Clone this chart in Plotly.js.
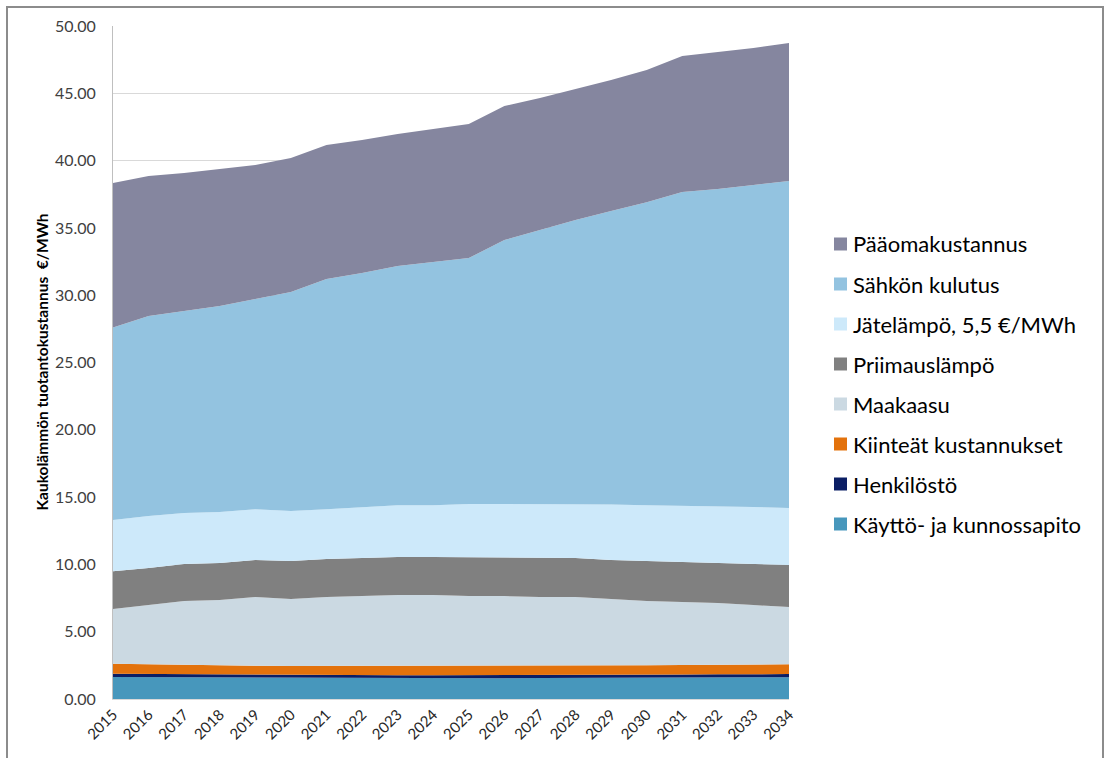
<!DOCTYPE html>
<html>
<head>
<meta charset="utf-8">
<script src="https://cdn.plot.ly/plotly-3.0.1.min.js"></script>
<style>
  html, body { margin: 0; padding: 0; background: #ffffff; }
  #chart { position: absolute; left: 0; top: 0; width: 1105px; height: 758px; }
  #frame { position: absolute; left: 6px; top: 6px; width: 1098px; height: 800px;
           box-sizing: border-box; border: 2px solid #8c8c8c; pointer-events: none; }
</style>
</head>
<body>
<div id="chart"></div>
<div id="frame"></div>
<script>
// ---- Data (€/MWh) ----
const years = [2015, 2016, 2017, 2018, 2019, 2020, 2021, 2022, 2023, 2024,
               2025, 2026, 2027, 2028, 2029, 2030, 2031, 2032, 2033, 2034];
const yearLabels = years.map(String);

const kayttoJaKunnossapito = [1.63, 1.62, 1.60, 1.59, 1.57, 1.57, 1.56, 1.56, 1.55, 1.55,
                              1.55, 1.55, 1.56, 1.56, 1.57, 1.58, 1.59, 1.60, 1.61, 1.62];
const henkilosto = [0.25, 0.24, 0.24, 0.23, 0.23, 0.22, 0.22, 0.22, 0.22, 0.22,
                    0.22, 0.22, 0.22, 0.22, 0.22, 0.23, 0.23, 0.23, 0.23, 0.23];
const kiinteatKustannukset = [0.74, 0.71, 0.69, 0.68, 0.67, 0.66, 0.67, 0.67, 0.68, 0.68,
                              0.68, 0.68, 0.68, 0.69, 0.69, 0.69, 0.70, 0.71, 0.72, 0.73];
const maakaasu = [4.07, 4.41, 4.75, 4.86, 5.11, 4.98, 5.13, 5.20, 5.28, 5.28,
                  5.20, 5.20, 5.12, 5.11, 4.95, 4.78, 4.68, 4.59, 4.42, 4.25];
const priimauslampo = [2.81, 2.75, 2.75, 2.74, 2.75, 2.82, 2.82, 2.83, 2.82, 2.82,
                       2.90, 2.90, 2.92, 2.90, 2.90, 2.97, 2.98, 2.97, 3.05, 3.13];
const jatelampo = [3.80, 3.87, 3.79, 3.80, 3.77, 3.72, 3.70, 3.78, 3.85, 3.85,
                   3.94, 3.94, 3.99, 4.01, 4.12, 4.15, 4.19, 4.20, 4.23, 4.23];
const sahkonKulutus = [14.30, 14.85, 15.01, 15.30, 15.62, 16.27, 17.10, 17.39, 17.77, 18.05,
                       18.27, 19.61, 20.35, 21.10, 21.81, 22.50, 23.30, 23.59, 23.93, 24.29];
const paaomakustannus = [10.74, 10.41, 10.25, 10.18, 9.95, 9.95, 9.96, 9.88, 9.81, 9.90,
                         9.96, 9.96, 9.81, 9.73, 9.73, 9.83, 10.10, 10.18, 10.18, 10.26];

// Series in stacking order (bottom to top)
const seriesNames = ["Käyttö- ja kunnossapito", "Henkilöstö", "Kiinteät kustannukset",
                     "Maakaasu", "Priimauslämpö", "Jätelämpö, 5,5 €/MWh",
                     "Sähkön kulutus", "Pääomakustannus"];
const seriesValues = [kayttoJaKunnossapito, henkilosto, kiinteatKustannukset, maakaasu,
                      priimauslampo, jatelampo, sahkonKulutus, paaomakustannus];
const seriesColors = ["#4797BC", "#0B1E64", "#E3720C", "#CBD9E2",
                      "#808080", "#CDE9FA", "#93C3E0", "#85869F"];

const yTicks = [0, 5, 10, 15, 20, 25, 30, 35, 40, 45, 50];

// ---- Traces ----
const traces = seriesNames.map((name, i) => ({
  type: "scatter",
  mode: "lines",
  name: name,
  x: years,
  y: seriesValues[i],
  stackgroup: "one",
  line: { width: 0, color: seriesColors[i] },
  fillcolor: seriesColors[i],
  hoverinfo: "skip",
  showlegend: false
}));

// ---- Layout geometry ----
const W = 1105, H = 758;
const M = { l: 113, r: 316, t: 26, b: 59 };
const plotH = H - M.t - M.b;

// Custom legend (top entry = top of stack)
const legendX = 1.0 + (834 - (W - M.r)) / (W - M.l - M.r);
const legendTop = 244, legendStep = 40;
const shapes = [];
const annotations = [];
const legendOrder = seriesNames.map((n, i) => i).reverse();
legendOrder.forEach((idx, k) => {
  const py = legendTop + k * legendStep;
  const yp = (H - M.b - py) / plotH;
  shapes.push({
    type: "rect", xref: "paper", yref: "paper",
    xsizemode: "pixel", ysizemode: "pixel",
    xanchor: legendX, yanchor: yp,
    x0: 0, x1: 13, y0: -6.5, y1: 6.5,
    fillcolor: seriesColors[idx], line: { width: 0 }
  });
  annotations.push({
    xref: "paper", yref: "paper", x: legendX, y: yp,
    xanchor: "left", yanchor: "middle", xshift: 17, showarrow: false,
    text: seriesNames[idx],
    font: { family: "Lato, 'Open Sans', sans-serif", size: 22, color: "#000000" }
  });
});

// Y-axis title as rotated annotation
annotations.push({
  xref: "paper", yref: "paper",
  x: (41 - M.l) / (W - M.l - M.r), y: 0.5,
  xanchor: "center", yanchor: "middle", textangle: -90, showarrow: false,
  text: "<b>Kaukolämmön tuotantokustannus  €/MWh</b>",
  font: { family: "Lato, 'Open Sans', sans-serif", size: 15.5, color: "#000000" }
});

const layout = {
  width: W, height: H,
  margin: M,
  paper_bgcolor: "rgba(0,0,0,0)",
  plot_bgcolor: "#ffffff",
  showlegend: false,
  hovermode: false,
  xaxis: {
    type: "linear",
    range: [years[0], years[years.length - 1]],
    tickvals: years,
    ticktext: yearLabels,
    tickangle: -45,
    showgrid: false,
    zeroline: false,
    showline: true, linecolor: "#D9D9D9", linewidth: 1,
    ticks: "",
    tickfont: { family: "Lato, 'Open Sans', sans-serif", size: 15, color: "#262626" }
  },
  yaxis: {
    range: [0, 50],
    tickvals: yTicks,
    ticktext: yTicks.map(v => v.toFixed(2)),
    showgrid: true, gridcolor: "#D9D9D9", gridwidth: 1,
    zeroline: false,
    showline: true, linecolor: "#BFBFBF", linewidth: 1,
    ticks: "",
    ticklabelstandoff: 13,
    tickfont: { family: "Lato, 'Open Sans', sans-serif", size: 16, color: "#404040" }
  },
  shapes: shapes,
  annotations: annotations
};

Plotly.newPlot("chart", traces, layout, { displayModeBar: false, staticPlot: true });
</script>
</body>
</html>
